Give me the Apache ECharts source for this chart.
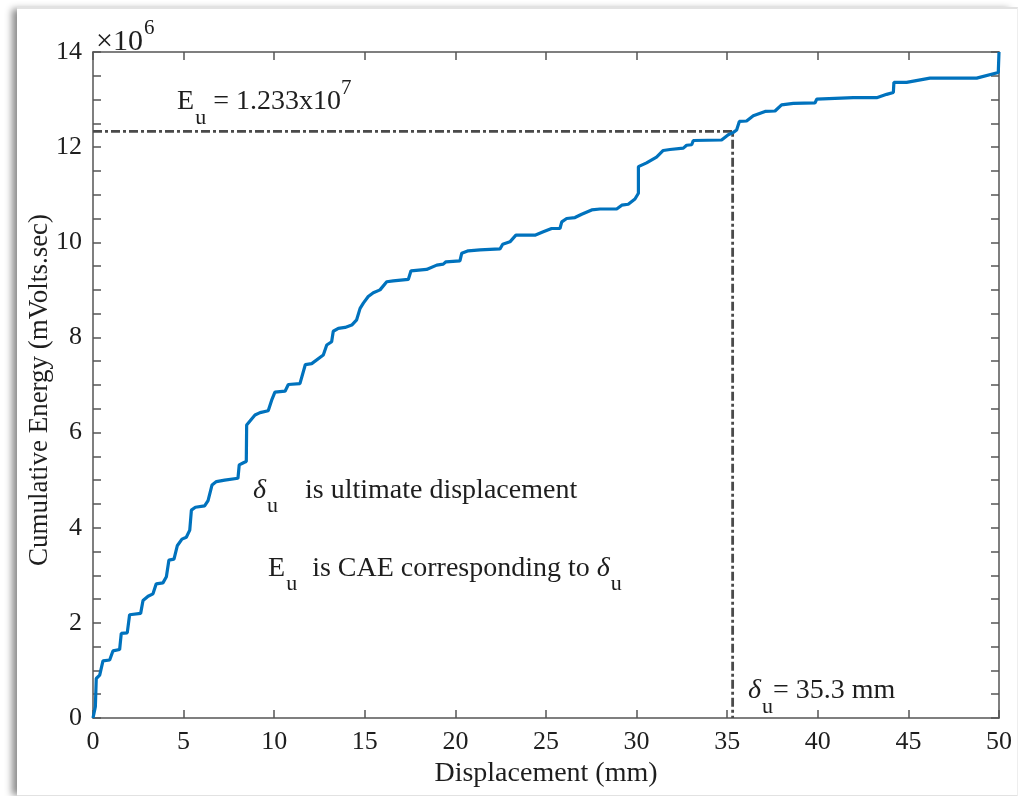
<!DOCTYPE html>
<html>
<head>
<meta charset="utf-8">
<script src="https://cdn.jsdelivr.net/npm/echarts@6/dist/echarts.min.js"></script>
<style>
  html, body { margin: 0; padding: 0; background: #ffffff; }
  #frame { position: absolute; left: 17px; top: 7px; width: 1000px; height: 786px;
           border-top: 2px solid #e2e2e2; border-bottom: 2px solid #e2e2e2; border-right: 1px solid #eeeeee;
           box-shadow: -7px 0 7px -2px rgba(0,0,0,0.45); background: #fff; }
  #chart { position: absolute; left: 0; top: 0; width: 1021px; height: 796px; }
</style>
</head>
<body>
<div id="frame"></div>
<div id="chart"></div>
<script>
// Displacement (mm)
const displacement = [0, 0.13, 0.18, 0.37, 0.55, 0.92, 1.10, 1.47, 1.56, 1.89, 2.02, 2.63, 2.76, 3.04, 3.31, 3.49, 3.86, 4.05, 4.19, 4.47, 4.65, 4.91, 5.15, 5.34, 5.43, 5.65, 6.16, 6.35, 6.57, 6.81, 7.27, 8.00, 8.07, 8.33, 8.46, 8.48, 8.94, 9.22, 9.67, 9.86, 10.04, 10.60, 10.78, 11.42, 11.72, 12.07, 12.71, 12.90, 13.17, 13.26, 13.54, 13.91, 14.28, 14.55, 14.74, 14.92, 15.19, 15.47, 15.84, 16.21, 16.57, 17.40, 17.55, 18.41, 18.97, 19.33, 19.48, 20.25, 20.35, 20.71, 21.36, 22.46, 22.61, 23.01, 23.34, 24.39, 24.85, 25.31, 25.77, 25.87, 26.14, 26.60, 26.97, 27.52, 27.98, 28.90, 29.18, 29.54, 29.91, 30.10, 30.10, 30.55, 31.10, 31.47, 31.84, 32.58, 32.76, 33.04, 33.13, 34.69, 35.06, 35.34, 35.52, 35.67, 36.07, 36.44, 37.09, 37.64, 38.00, 38.65, 39.85, 39.94, 41.96, 43.25, 43.80, 44.17, 44.20, 44.90, 46.19, 48.77, 49.96, 50.00];
// Cumulative energy (x10^6 mVolts.sec)
const energy = [0, 0.24, 0.83, 0.90, 1.20, 1.22, 1.41, 1.44, 1.78, 1.79, 2.17, 2.20, 2.47, 2.56, 2.61, 2.82, 2.84, 2.97, 3.32, 3.34, 3.62, 3.76, 3.80, 3.95, 4.37, 4.43, 4.46, 4.57, 4.90, 4.97, 5.00, 5.04, 5.32, 5.37, 5.39, 6.16, 6.37, 6.42, 6.46, 6.68, 6.85, 6.87, 7.01, 7.03, 7.43, 7.45, 7.63, 7.84, 7.91, 8.13, 8.19, 8.21, 8.26, 8.37, 8.61, 8.72, 8.86, 8.94, 9.00, 9.17, 9.19, 9.22, 9.40, 9.43, 9.52, 9.54, 9.59, 9.61, 9.77, 9.82, 9.84, 9.86, 9.96, 10.01, 10.15, 10.15, 10.22, 10.29, 10.29, 10.43, 10.50, 10.52, 10.59, 10.68, 10.70, 10.70, 10.78, 10.80, 10.91, 11.03, 11.59, 11.67, 11.79, 11.93, 11.95, 11.98, 12.04, 12.05, 12.14, 12.15, 12.26, 12.31, 12.36, 12.54, 12.55, 12.66, 12.75, 12.76, 12.89, 12.92, 12.93, 13.01, 13.04, 13.04, 13.11, 13.15, 13.36, 13.36, 13.45, 13.45, 13.57, 14.00];
// Ultimate point
const ultimateDisp = 35.3;
const ultimateEnergy = 12.33;
// Tick labels
const xTicks = ['0', '5', '10', '15', '20', '25', '30', '35', '40', '45', '50'];
const yTicks = ['0', '2', '4', '6', '8', '10', '12', '14'];
// Annotation texts and anchors (data coordinates)
const annoTexts = [
  '{m|E}{s|u}{m| = 1.233x10}{p|7}',
  '{i|δ}{s|u}{g|is ultimate displacement}',
  '{m|E}{s|u}{h|is CAE corresponding to }{i|δ}{s|u}',
  '{i|δ}{s|u}{m|= 35.3 mm}'
];
const annoX = [4.64, 8.83, 9.66, 36.15];
const annoY = [12.99, 4.83, 3.19, 0.61];

const FONT = '"Liberation Serif", "Times New Roman", serif';
const TXT = '#1e1e1e';
const AX = '#555555';

const chart = echarts.init(document.getElementById('chart'), null, { renderer: 'canvas' });
const curve = displacement.map((d, i) => [d, energy[i]]);
const guide = [[0, ultimateEnergy], [ultimateDisp, ultimateEnergy], [ultimateDisp, 0]];
const annos = annoX.map((x, i) => ({ value: [x, annoY[i]], label: { formatter: annoTexts[i] } }));

const base = { fontFamily: FONT, fontSize: 28, color: TXT, lineHeight: 30, verticalAlign: 'top' };
const rich = {
  m: Object.assign({}, base, { padding: [10, 0, 0, 0] }),
  i: Object.assign({}, base, { fontStyle: 'italic', padding: [10, 0, 0, 0] }),
  g: Object.assign({}, base, { padding: [10, 0, 0, 27] }),
  h: Object.assign({}, base, { padding: [10, 0, 0, 15] }),
  s: { fontFamily: FONT, fontSize: 22, color: TXT, lineHeight: 22, padding: [29, 0, 0, 1], verticalAlign: 'top' },
  p: { fontFamily: FONT, fontSize: 21, color: TXT, lineHeight: 20, padding: [0, 0, 0, 0], verticalAlign: 'top' }
};

const axisCommon = {
  axisLine: { show: true, onZero: false, lineStyle: { color: AX, width: 1.5 } },
  axisTick: { show: true, inside: true, length: 8, lineStyle: { color: AX, width: 1.5 } },
  splitLine: { show: false }
};

chart.setOption({
  animation: false,
  backgroundColor: 'transparent',
  grid: { left: 93, right: 22, top: 52, bottom: 78, containLabel: false, outerBoundsMode: 'none' },
  xAxis: [
    Object.assign({
      type: 'value', min: 0, max: 50, interval: 5, position: 'bottom',
      name: 'Displacement (mm)', nameLocation: 'middle', nameGap: 41,
      nameTextStyle: { fontFamily: FONT, fontSize: 28, color: TXT },
      axisLabel: { fontFamily: FONT, fontSize: 26, color: TXT, margin: 11,
        formatter: (v) => xTicks[Math.round(v / 5)] }
    }, axisCommon),
    Object.assign({
      type: 'value', min: 0, max: 50, interval: 5, position: 'top',
      axisLabel: { show: false }
    }, axisCommon)
  ],
  yAxis: [
    Object.assign({
      type: 'value', min: 0, max: 14, interval: 2, position: 'left',
      name: 'Cumulative Energy (mVolts.sec)', nameLocation: 'middle', nameGap: 40, nameRotate: 90,
      nameMoveOverlap: false,
      nameTextStyle: { fontFamily: FONT, fontSize: 27, color: TXT, padding: [0, 10, 0, 0] },
      axisLabel: { fontFamily: FONT, fontSize: 26, color: TXT, margin: 11,
        formatter: (v) => yTicks[Math.round(v / 2)] },
      minorTick: { show: true, splitNumber: 4, length: 8, lineStyle: { color: AX, width: 1.5 } }
    }, axisCommon),
    Object.assign({
      type: 'value', min: 0, max: 14, interval: 2, position: 'right',
      axisLabel: { show: false },
      minorTick: { show: true, splitNumber: 4, length: 8, lineStyle: { color: AX, width: 1.5 } }
    }, axisCommon)
  ],
  series: [
    {
      type: 'line', name: 'guide', data: guide, symbol: 'none', silent: true,
      lineStyle: { color: '#4a4a4a', width: 2.8, type: [9, 3, 3, 3] }, z: 2
    },
    {
      type: 'line', name: 'CAE', data: curve, symbol: 'none', silent: true,
      lineStyle: { color: '#0072BD', width: 3.2 }, z: 3
    },
    {
      type: 'scatter', name: 'annotations', data: annos, symbolSize: 0, silent: true, clip: false,
      itemStyle: { opacity: 1 },
      label: { show: true, position: 'right', distance: 0, offset: [0, -7], opacity: 1, rich: rich }, z: 5
    }
  ],
  graphic: [
    {
      type: 'text', left: 96, top: 15,
      style: { text: '{m|×10}{p|6}', rich: {
        m: { fontFamily: FONT, fontSize: 30, fill: TXT, color: TXT, lineHeight: 32, padding: [12, 0, 0, 0], verticalAlign: 'top' },
        p: { fontFamily: FONT, fontSize: 21, fill: TXT, color: TXT, lineHeight: 20, padding: [3, 0, 0, 1], verticalAlign: 'top' }
      } }
    }
  ]
});
</script>
</body>
</html>
